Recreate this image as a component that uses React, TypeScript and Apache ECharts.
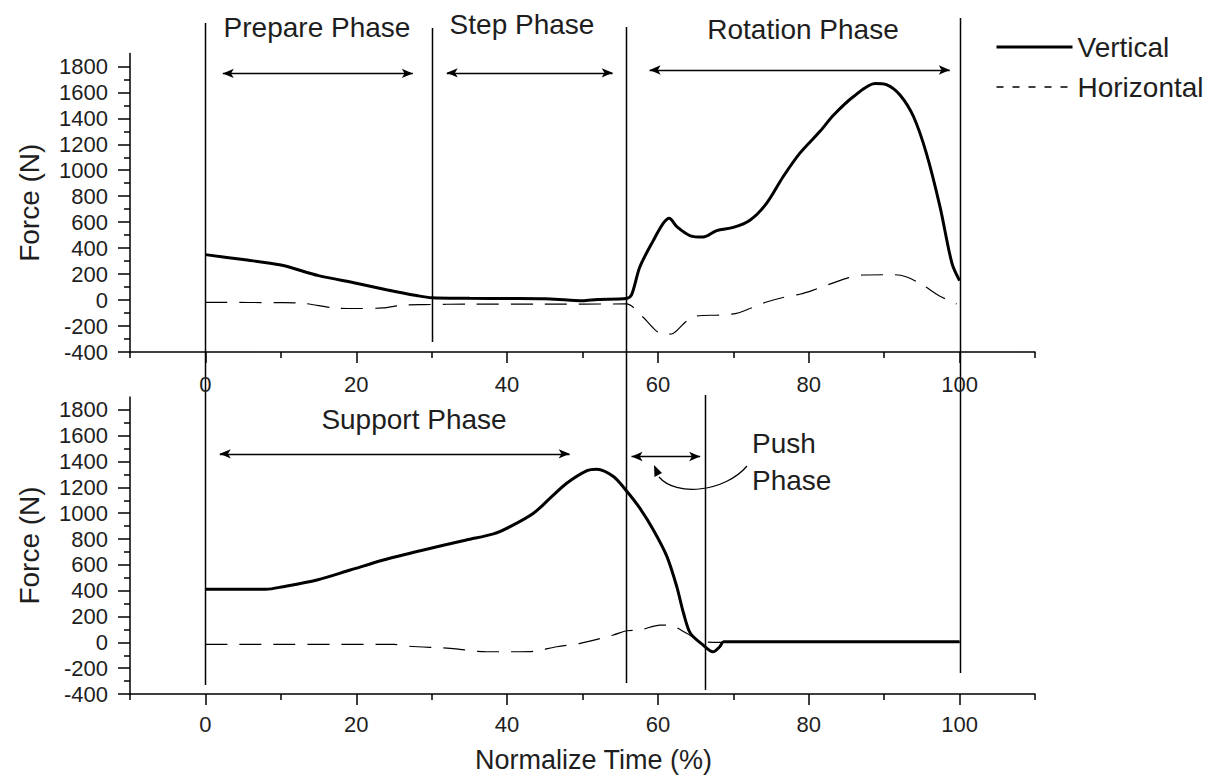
import React, { useEffect, useRef } from 'react';
import * as echarts from 'echarts';

// ---------- data ----------
const xLabelValues = [0, 20, 40, 60, 80, 100];
const xMinorValues = [-10, 10, 30, 50, 70, 90, 110];
const yLabelValues = [-400, -200, 0, 200, 400, 600, 800, 1000, 1200, 1400, 1600, 1800];
const yMinorValues = [-300, -100, 100, 300, 500, 700, 900, 1100, 1300, 1500, 1700];

// top panel
const vertTopX = [0, 5, 10, 15, 20, 24, 28, 30, 35, 40, 45, 48, 50, 52, 55.8, 56.5, 57.6, 59.4, 60.7, 61.5, 62.5, 64.3, 66, 67.8, 70, 72.2, 74.4, 76.6, 78.8, 81.5, 83.3, 85.9, 88.8, 90.3, 92.1, 93.9, 95.6, 97.4, 99, 100];
const vertTopY = [350, 312, 270, 188, 130, 80, 35, 18, 14, 12, 10, 0, -5, 5, 12, 40, 255, 460, 590, 630, 565, 495, 485, 535, 560, 615, 745, 950, 1130, 1300, 1425, 1566, 1669, 1660, 1580, 1412, 1130, 720, 280, 150];
const horTopX = [0, 10, 13, 17, 20, 23.5, 26, 29, 35, 45, 55.8, 58, 60.3, 61.2, 62, 63.7, 65.1, 68.2, 70.4, 72.2, 74.4, 76.6, 78.8, 80.6, 85, 87.2, 91.4, 92.9, 95, 97.4, 99.6];
const horTopY = [-18, -20, -25, -60, -65, -60, -40, -35, -31, -31, -30, -130, -257, -262, -257, -167, -123, -115, -103, -65, -15, 20, 45, 77, 167, 193, 195, 180, 120, 30, -30];

// bottom panel
const vertBotX = [0, 8, 10.3, 14.8, 19.2, 23.6, 28.5, 34.6, 38.2, 40.4, 43.5, 45.7, 47.9, 50.6, 51.9, 54.1, 55.9, 57.6, 59.4, 61.2, 62.5, 63.4, 64.3, 66, 67.3, 68.2, 68.7, 70, 100];
const vertBotY = [411, 411, 431, 483, 560, 638, 710, 793, 840, 896, 1000, 1116, 1232, 1330, 1341, 1284, 1168, 1039, 870, 664, 431, 225, 70, -21, -73, -34, 5, 5, 5];
const horBotX = [0, 25, 27, 32.5, 37.3, 41.7, 43.5, 46.6, 49.7, 54.1, 55.9, 57.6, 60.3, 62, 63.8, 66, 68, 100];
const horBotY = [-16, -16, -30, -47, -73, -73, -70, -34, -8, 57, 90, 95, 134, 126, 70, 5, 0, 0];

// phase arrows (double headed)
const arrowTopStart = [2.3, 32.0, 58.9];
const arrowTopEnd = [27.5, 54.0, 98.7];
const arrowTopY = [1746, 1750, 1772];
const arrowBotStart = [1.9, 56.5];
const arrowBotEnd = [48.3, 65.6];
const arrowBotY = [1460, 1439];

// phase boundaries (x values)
const boundaryX = [0, 30, 55.8, 66.3, 100];

// ---------- layout ----------
const boundaryPxTop = [23, 28, 27, 395, 18];
const boundaryPxBottom = [685, 342, 683, 690, 673];

const FONT = '"Liberation Sans", Arial, sans-serif';
const TXT = '#1e1e1e';

const zip = (xs: number[], ys: number[]) => xs.map((x, i) => [x, ys[i]]);

const arrowLines = (s: number[], e: number[], y: number[]) =>
  s.map((x, i) => [{ coord: [x, y[i]] }, { coord: [e[i], y[i]] }]);

const plain = (v: number) => String(v);

function xAxes(grid: number, withName: boolean, margin: number) {
  return [
    {
      type: 'value', gridIndex: grid, position: 'bottom', min: -10, max: 110,
      name: withName ? 'Normalize Time (%)' : '',
      nameLocation: 'middle', nameGap: 52,
      nameTextStyle: { fontFamily: FONT, fontSize: 27, color: TXT, padding: [0, 0, 0, 22] },
      axisLine: { show: true, onZero: false, lineStyle: { color: '#000', width: 1.5 } },
      axisTick: { show: true, customValues: xLabelValues, length: 11, lineStyle: { color: '#000', width: 1.5 } },
      axisLabel: { show: true, customValues: xLabelValues, formatter: plain, margin, fontFamily: FONT, fontSize: 22, color: TXT },
      splitLine: { show: false },
    },
    {
      type: 'value', gridIndex: grid, position: 'bottom', min: -10, max: 110,
      axisLine: { show: false, onZero: false },
      axisTick: { show: true, customValues: xMinorValues, length: 6, lineStyle: { color: '#000', width: 1.5 } },
      axisLabel: { show: false },
      splitLine: { show: false },
    },
  ];
}

function yAxes(grid: number) {
  return [
    {
      type: 'value', gridIndex: grid, position: 'left', min: -400, max: 1900,
      name: 'Force (N)', nameLocation: 'middle', nameGap: 87,
      nameTextStyle: { fontFamily: FONT, fontSize: 28, color: TXT },
      axisLine: { show: true, onZero: false, lineStyle: { color: '#000', width: 1.5 } },
      axisTick: { show: true, customValues: yLabelValues, length: 12, lineStyle: { color: '#000', width: 1.5 } },
      axisLabel: { show: true, customValues: yLabelValues, formatter: plain, margin: 22, fontFamily: FONT, fontSize: 22, color: TXT },
      splitLine: { show: false },
    },
    {
      type: 'value', gridIndex: grid, position: 'left', min: -400, max: 1900,
      axisLine: { show: false, onZero: false },
      axisTick: { show: true, customValues: yMinorValues, length: 6, lineStyle: { color: '#000', width: 1.5 } },
      axisLabel: { show: false },
      splitLine: { show: false },
    },
  ];
}

const markArrows = (data: any[]) => ({
  silent: true,
  symbol: ['arrow', 'arrow'],
  symbolSize: [7, 11],
  label: { show: false },
  emphasis: { disabled: true },
  lineStyle: { color: '#000', width: 1.3, type: 'solid' },
  data,
});

const vertStyle = { color: '#000', width: 3, type: 'solid' };
const horStyle = { color: '#000', width: 1.2, type: [22, 12] };
const hiddenSymbol = { opacity: 0, color: 'rgba(0,0,0,0)', borderWidth: 0 };

const option: any = {
  animation: false,
  backgroundColor: '#fff',
  textStyle: { fontFamily: FONT },
  grid: [
    { left: 130, top: 53.4, width: 905, height: 298.6 },
    { left: 130, top: 397, width: 905, height: 297 },
  ],
  xAxis: [...xAxes(0, false, 21), ...xAxes(1, true, 19)],
  yAxis: [...yAxes(0), ...yAxes(1)],
  legend: {
    orient: 'vertical', left: 990, top: 28, itemWidth: 76, itemHeight: 14, itemGap: 12,
    selectedMode: false,
    textStyle: { fontFamily: FONT, fontSize: 28, color: TXT },
    data: [
      { name: 'Vertical', lineStyle: { width: 3, type: 'solid' }, itemStyle: hiddenSymbol },
      { name: 'Horizontal', lineStyle: { width: 1.5, type: [7, 9] }, itemStyle: hiddenSymbol },
    ],
  },
  series: [
    {
      name: 'Vertical', type: 'line', xAxisIndex: 0, yAxisIndex: 0, data: zip(vertTopX, vertTopY),
      showSymbol: false, symbol: 'none', smooth: 0.3, lineStyle: vertStyle, itemStyle: { color: '#000' },
      z: 3, markLine: markArrows(arrowLines(arrowTopStart, arrowTopEnd, arrowTopY)),
    },
    {
      name: 'Horizontal', type: 'line', xAxisIndex: 0, yAxisIndex: 0, data: zip(horTopX, horTopY),
      showSymbol: false, symbol: 'none', smooth: 0.3, lineStyle: horStyle, itemStyle: { color: '#000' }, z: 2,
    },
    {
      name: 'Vertical', type: 'line', xAxisIndex: 2, yAxisIndex: 2, data: zip(vertBotX, vertBotY),
      showSymbol: false, symbol: 'none', smooth: 0.3, lineStyle: vertStyle, itemStyle: { color: '#000' },
      z: 3, markLine: markArrows(arrowLines(arrowBotStart, arrowBotEnd, arrowBotY)),
    },
    {
      name: 'Horizontal', type: 'line', xAxisIndex: 2, yAxisIndex: 2, data: zip(horBotX, horBotY),
      showSymbol: false, symbol: 'none', smooth: 0.3, lineStyle: horStyle, itemStyle: { color: '#000' }, z: 2,
    },
  ],
};

const phaseText = (text: string, x: number, y: number, align = 'center') => ({
  type: 'text', x, y, silent: true,
  style: { text, fill: TXT, font: `28px ${FONT}`, textAlign: align, textVerticalAlign: 'middle' },
});

export default function App() {
  const ref = useRef<HTMLDivElement>(null);
  useEffect(() => {
    document.body.style.margin = '0';
    const chart = echarts.init(ref.current!, null, { renderer: 'svg' });
    chart.setOption(option);
    const toPx = (v: number) => chart.convertToPixel({ xAxisIndex: 0 }, v) as number;

    const lines = boundaryX.map((bx, i) => {
      const x = Math.round(toPx(bx)) + 0.5;
      return {
        type: 'line', silent: true,
        shape: { x1: x, y1: boundaryPxTop[i], x2: x, y2: boundaryPxBottom[i] },
        style: { stroke: '#000', lineWidth: 1.5 },
      };
    });

    const graphic: any[] = [
      ...lines,
      phaseText('Prepare Phase', 317, 27),
      phaseText('Step Phase', 522, 24),
      phaseText('Rotation Phase', 803, 29),
      phaseText('Support Phase', 414, 419),
      phaseText('Push', 752, 443, 'left'),
      phaseText('Phase', 752, 480, 'left'),
      {
        type: 'bezierCurve', silent: true,
        shape: { x1: 747, y1: 466, cpx1: 725, cpy1: 492, cpx2: 676, cpy2: 497, x2: 659, y2: 477 },
        style: { stroke: '#000', lineWidth: 1.2, fill: null },
      },
      {
        type: 'polygon', silent: true,
        shape: { points: [[654, 465], [662, 473], [654.5, 477]] },
        style: { fill: '#000' },
      },
    ];
    chart.setOption({ graphic });
    return () => chart.dispose();
  }, []);
  return <div ref={ref} style={{ position: 'absolute', left: 0, top: 0, width: 1224, height: 778 }} />;
}
